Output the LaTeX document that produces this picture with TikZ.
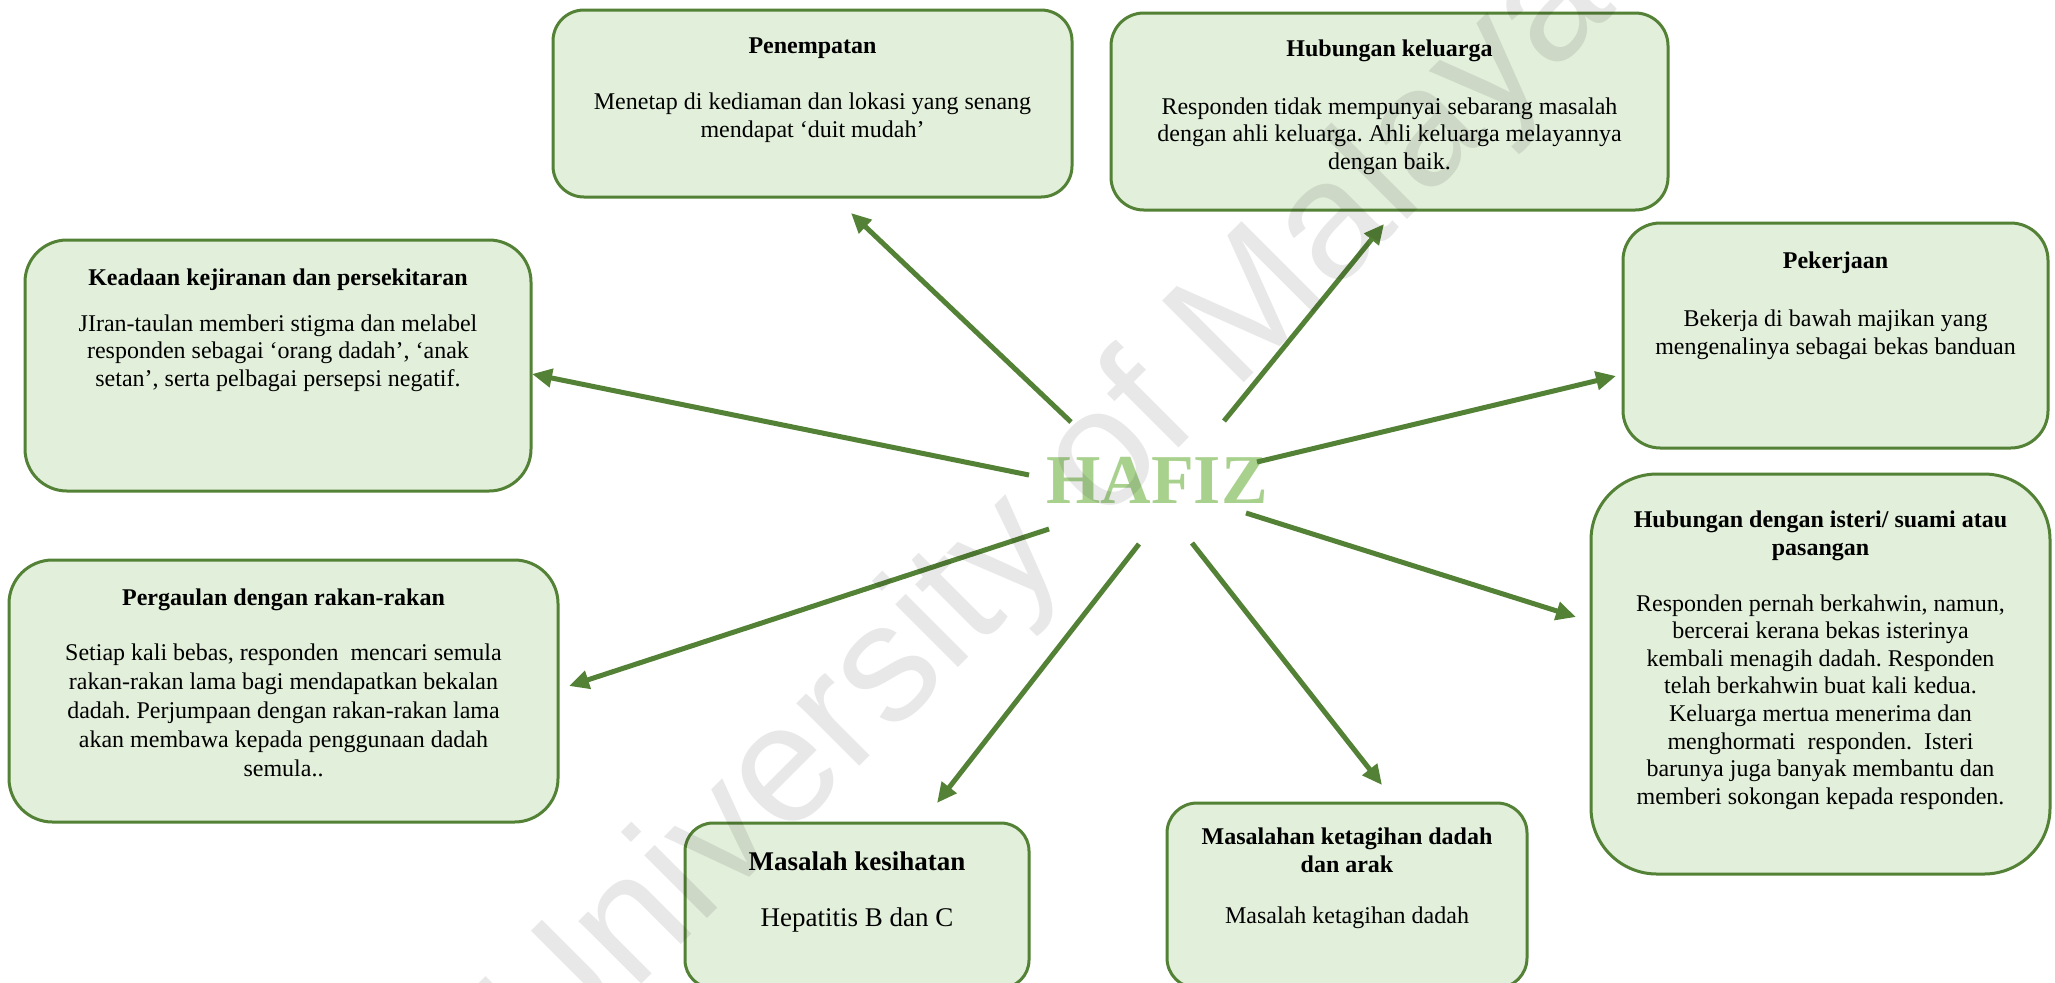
\documentclass[tikz,border=0pt]{standalone}
\usepackage{fontspec}
\setmainfont{Liberation Serif}
\newfontfamily\wmfont{Liberation Sans}
\usetikzlibrary{arrows.meta}
\definecolor{boxfill}{HTML}{E2EFDA}
\definecolor{boxline}{HTML}{538135}
\definecolor{hafizc}{HTML}{A9D18E}
\frenchspacing
\tikzset{
  bx/.style={draw=boxline, fill=boxfill, line width=1.5pt, inner sep=0pt},
  ttl/.style={align=center, inner sep=0pt, font=\fontsize{12}{13.8}\selectfont\bfseries},
  bod/.style={align=center, inner sep=0pt, font=\fontsize{12}{13.8}\selectfont},
  arr/.style={draw=boxline, line width=2.5pt, -{Triangle[length=10pt,width=9pt]}},
}
\begin{document}
\begin{tikzpicture}[x=0.5pt,y=-0.5pt]
\useasboundingbox (0,0) rectangle (2055,982);
\clip (0,0) rectangle (2055,982);
\fill[white] (0,0) rectangle (2055,982);

% boxes
\node[bx, minimum width=259.5pt, minimum height=93.5pt, rounded corners=15.5pt] (pen) at (812.5,103.5) {};
\node[bx, minimum width=278.5pt, minimum height=98.5pt, rounded corners=16.4pt] (kel) at (1389.5,111.5) {};
\node[bx, minimum width=253pt, minimum height=125.5pt, rounded corners=21pt] (kej) at (278,365.5) {};
\node[bx, minimum width=212.5pt, minimum height=112.5pt, rounded corners=18.7pt] (pek) at (1835.5,335.5) {};
\node[bx, minimum width=274.5pt, minimum height=131pt, rounded corners=21.8pt] (per) at (283.5,691) {};
\node[bx, minimum width=229.5pt, minimum height=200pt, rounded corners=33pt] (ist) at (1820.5,674) {};
\node[bx, minimum width=172pt, minimum height=82.5pt, rounded corners=14pt] (kes) at (857,905.5) {};
\node[bx, minimum width=180pt, minimum height=92.5pt, rounded corners=15pt] (ket) at (1347,895.5) {};

% texts
\node[ttl] (penT) at (812.5,48) {Penempatan};
\node[bod] (penB) at (812.5,118) {Menetap di kediaman dan lokasi yang senang\\mendapat ‘duit mudah’};

\node[ttl] (kelT) at (1389.5,51) {Hubungan keluarga};
\node[bod] (kelB) at (1389.5,136) {Responden tidak mempunyai sebarang masalah\\dengan ahli keluarga. Ahli keluarga melayannya\\dengan baik.};

\node[ttl] (kejT) at (278,280) {Keadaan kejiranan dan persekitaran};
\node[bod] (kejB) at (278,353) {JIran-taulan memberi stigma dan melabel\\responden sebagai ‘orang dadah’, ‘anak\\setan’, serta pelbagai persepsi negatif.};

\node[ttl] (pekT) at (1835.5,263) {Pekerjaan};
\node[bod] (pekB) at (1835.5,335) {Bekerja di bawah majikan yang\\mengenalinya sebagai bekas banduan};

\node[ttl] (perT) at (283.5,600) {Pergaulan dengan rakan-rakan};
\node[bod, font=\fontsize{12}{14.5}\selectfont] (perB) at (283.5,710) {Setiap kali bebas, responden\ \ mencari semula\\rakan-rakan lama bagi mendapatkan bekalan\\dadah. Perjumpaan dengan rakan-rakan lama\\akan membawa kepada penggunaan dadah\\semula..};

\node[ttl] (istT) at (1820.5,536) {Hubungan dengan isteri/ suami atau\\pasangan};
\node[bod] (istB) at (1820.5,702) {Responden pernah berkahwin, namun,\\bercerai kerana bekas isterinya\\kembali menagih dadah. Responden\\telah berkahwin buat kali kedua.\\Keluarga mertua menerima dan\\menghormati\ \ responden.\ \ Isteri\\barunya juga banyak membantu dan\\memberi sokongan kepada responden.};

\node[ttl, font=\fontsize{13.5}{15.5}\selectfont\bfseries] (kesT) at (857,861) {Masalah kesihatan};
\node[bod, font=\fontsize{13.5}{15.5}\selectfont] (kesB) at (857,920) {Hepatitis B dan C};

\node[ttl] (ketT) at (1347,850) {Masalahan ketagihan dadah\\dan arak};
\node[bod] (ketB) at (1347,918) {Masalah ketagihan dadah};

% centre
\node[inner sep=0pt, text=hafizc, font=\fontsize{35}{40}\selectfont\bfseries] (hafiz) at (1157,480) {HAFIZ};

% connector ends
\coordinate (s1) at (1071,422); \coordinate (e1) at (851,213);
\coordinate (s2) at (1224,421); \coordinate (e2) at (1384,224);
\coordinate (s3) at (1029,475); \coordinate (e3) at (532,374);
\coordinate (s4) at (1257,462); \coordinate (e4) at (1616,376);
\coordinate (s5) at (1049,529); \coordinate (e5) at (569,686);
\coordinate (s6) at (1246,513); \coordinate (e6) at (1576,617);
\coordinate (s7) at (1139,544); \coordinate (e7) at (937,803);
\coordinate (s8) at (1192,543); \coordinate (e8) at (1382,785);
\foreach \i in {1,...,8} { \draw[arr] (s\i) -- (e\i); }

% watermark
\node[rotate=45, inner sep=0pt, text=black, text opacity=0.09, font=\wmfont\fontsize{84}{90}\selectfont] (wm) at (1052,513) {University of Malaya};
\end{tikzpicture}
\end{document}
